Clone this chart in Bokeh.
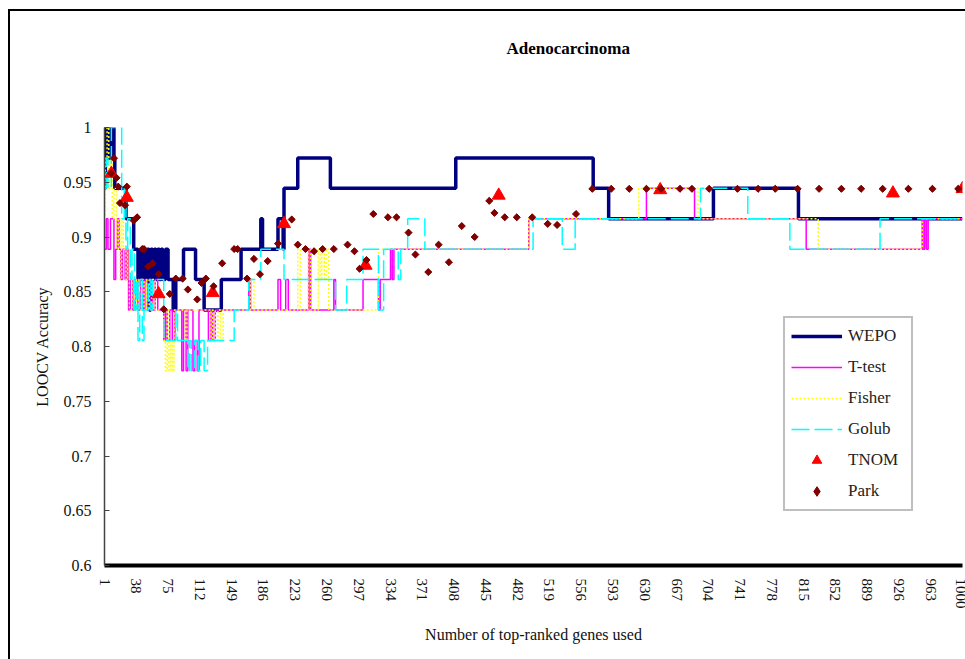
from bokeh.plotting import figure
from bokeh.models import (FixedTicker, CustomJSTickFormatter, Legend, LegendItem,
                          Title, Range1d, InlineStyleSheet)
from bokeh.embed import file_html
from bokeh.resources import INLINE

N_SAMPLES = 36  # accuracies are counts of correctly classified samples out of 36

# ---- data (step breakpoints: number of genes, correct count) ----
wepo_x = [1, 2, 3, 4, 5, 6, 7, 8, 9, 11, 12, 13, 17, 26, 35, 40, 43, 45, 47, 49, 51, 53, 55, 57,
          59, 61, 63, 65, 67, 69, 72, 75, 81, 84, 93, 107, 117, 137, 160, 183, 185, 203, 209,
          210, 226, 264, 410, 570, 588, 710, 809, 1000]
wepo_k = [34, 36, 35, 36, 35, 36, 35, 36, 35, 36, 35, 34, 34, 33, 32, 31, 32, 31, 32, 31, 32, 30, 32, 31,
          32, 31, 32, 31, 32, 31, 32, 31, 30, 31, 32, 31, 30, 31, 32, 33, 32, 33, 32,
          34, 35, 34, 35, 34, 33, 34, 33, 33]

ttest_x = [1, 3, 5, 8, 12, 14, 16, 18, 20, 22, 25, 27, 29, 31, 34, 37, 40, 43, 46, 48,
           51, 54, 57, 60, 63, 70, 72, 74, 77, 80, 83, 91, 93, 96, 98, 104, 106, 109, 111, 122,
           125, 127, 130, 169, 171, 203, 206, 212, 215, 239, 241, 268, 270, 302, 320, 322, 334,
           336, 338, 495, 632, 688, 818, 953, 954, 956, 958, 960, 1000]
ttest_k = [32, 33, 32, 33, 31, 32, 33, 32, 31, 32, 31, 32, 30, 31, 30, 31, 30, 31, 30, 31,
           30, 31, 30, 31, 30, 29, 30, 29, 30, 29, 30, 28, 30, 28, 30, 28, 29, 28, 30, 29,
           30, 29, 30, 31, 30, 31, 30, 31, 30, 32, 30, 31, 30, 31, 30, 31, 32,
           31, 32, 33, 34, 33, 32, 33, 32, 33, 32, 33, 33]

fisher_x = [1, 2, 4, 6, 8, 10, 12, 15, 17, 19, 21, 23, 26, 28, 30, 33, 36, 38, 41, 44,
            47, 50, 53, 56, 60, 70, 72, 74, 76, 78, 80, 82, 95, 97, 125, 127, 130, 133, 136, 139,
            171, 175, 226, 229, 238, 241, 250, 252, 254, 257, 259, 262, 320, 495, 623, 692, 832,
            953, 1000]
fisher_k = [33, 35, 36, 34, 35, 33, 34, 32, 33, 31, 33, 32, 31, 32, 30, 31, 30, 31, 30, 31,
            30, 31, 30, 31, 30, 29, 28, 30, 28, 29, 28, 30, 29, 30, 29, 30, 29, 30, 29, 30,
            31, 30, 32, 30, 32, 30, 32, 31, 32, 31, 32, 30, 32, 33, 34, 33, 32,
            33, 33]

golub_x = [1, 3, 5, 9, 21, 24, 26, 28, 31, 33, 36, 38, 40, 42, 45, 47, 52, 55, 57, 70,
           84, 86, 98, 100, 102, 106, 110, 113, 117, 121, 152, 169, 183, 210, 253, 270, 283, 302,
           320, 326, 343, 346, 354, 374, 500, 534, 549, 695, 750, 799, 904, 1000]
golub_k = [34, 35, 34, 36, 33, 34, 32, 33, 31, 32, 30, 31, 29, 31, 29, 30, 31, 30, 31, 29,
           30, 29, 28, 29, 28, 29, 28, 29, 28, 29, 30, 31, 32, 31, 31, 30, 31, 32,
           30, 32, 31, 32, 33, 32, 33, 32, 33, 34, 33, 32, 33, 33]

tnom_x = [9, 27, 64, 127, 210, 305, 460, 648, 919, 1000]
tnom_y = [0.958, 0.936, 0.848, 0.849, 0.912, 0.874, 0.938, 0.943, 0.940, 0.944]

park_x = [9, 12, 15, 17, 19, 25, 27, 35, 39, 45, 47, 52, 57, 64, 70, 77, 84, 92, 98, 109,
          114, 119, 128, 138, 152, 156, 167, 175, 182, 191, 203, 219, 226, 235, 245, 255, 268,
          284, 292, 298, 306, 314, 331, 341, 355, 363, 378, 390, 402, 417, 432, 449, 455, 467,
          481, 499, 517, 528, 550, 569, 591, 612, 632, 649, 671, 685, 705, 738, 762, 782, 808,
          833, 859, 882, 907, 937, 965, 995]
park_y = [0.958, 0.972, 0.954, 0.946, 0.931, 0.929, 0.946, 0.915, 0.918, 0.889, 0.889, 0.873,
          0.876, 0.866, 0.834, 0.848, 0.862, 0.862, 0.852, 0.843, 0.858, 0.862, 0.855, 0.876,
          0.889, 0.889, 0.862, 0.880, 0.866, 0.878, 0.894, 0.916, 0.893, 0.889, 0.887, 0.889,
          0.889, 0.893, 0.887, 0.871, 0.879, 0.921, 0.918, 0.918, 0.904, 0.884, 0.868, 0.893,
          0.877, 0.910, 0.900, 0.933, 0.922, 0.918, 0.918, 0.918, 0.912, 0.911, 0.921, 0.944,
          0.944, 0.944, 0.944, 0.944, 0.944, 0.944, 0.944, 0.944, 0.944, 0.944, 0.944, 0.944,
          0.944, 0.944, 0.944, 0.944, 0.944, 0.944]

x_tick_labels = [1, 38, 75, 112, 149, 186, 223, 260, 297, 334, 371, 408, 445, 482, 519, 556,
                 593, 630, 667, 704, 741, 778, 815, 852, 889, 926, 963, 1000]
y_ticks = [0.6, 0.65, 0.7, 0.75, 0.8, 0.85, 0.9, 0.95, 1.0]


def acc(ks):
    return [k / N_SAMPLES for k in ks]


FONT = "Liberation Serif"

p = figure(width=965, height=659, output_backend="svg", toolbar_location=None,
           x_range=Range1d(1, 1000), y_range=Range1d(0.6, 1.0),
           min_border_left=104, min_border_right=3, min_border_top=127, min_border_bottom=94)
p.outline_line_color = None
p.xgrid.visible = False
p.ygrid.visible = False
p.background_fill_color = "white"
p.border_fill_color = "white"

# series (drawing order as in the original: WEPO underneath)
r_wepo = p.step(wepo_x, acc(wepo_k), mode="after", line_color="#000080", line_width=3.5)
r_t = p.step(ttest_x, acc(ttest_k), mode="after", line_color="#FF00FF", line_width=1.5)
r_f = p.step(fisher_x, acc(fisher_k), mode="after", line_color="#FFFF00", line_width=1.5,
             line_dash="2 2")
r_g = p.step(golub_x, acc(golub_k), mode="after", line_color="#00FFFF", line_width=1.5,
             line_dash="18 5")
r_tn = p.scatter(tnom_x, tnom_y, marker="triangle", size=13, fill_color="#FF0000",
                 line_color="#FF0000")
# diamond version of the Park points (used for the legend sample, hidden under the marks)
r_pk_leg = p.scatter(park_x, park_y, marker="diamond", size=6, fill_color="#800000",
                     line_color="#800000")
r_pk = p.scatter(park_x, park_y, marker="square", size=5, angle=0.785398,
                 fill_color="#800000", line_color="#800000")

# axes
p.xaxis.ticker = FixedTicker(ticks=x_tick_labels)
p.xaxis.major_label_orientation = "vertical"
p.xaxis.major_label_text_font = FONT
p.xaxis.major_label_text_font_size = "15px"
p.xaxis.major_label_text_color = "#111111"
p.xaxis.major_label_standoff = 13
p.xaxis.axis_line_width = 4
p.xaxis.axis_line_color = "black"
p.xaxis.major_tick_in = 0
p.xaxis.major_tick_out = 0
p.xaxis.minor_tick_line_color = None
p.xaxis.axis_label = "Number of top-ranked genes used"
p.xaxis.axis_label_text_font = FONT
p.xaxis.axis_label_text_font_size = "16px"
p.xaxis.axis_label_text_font_style = "normal"
p.xaxis.axis_label_text_color = "#111111"
p.xaxis.axis_label_standoff = 14

p.yaxis.ticker = FixedTicker(ticks=y_ticks)
p.yaxis.formatter = CustomJSTickFormatter(code="return String(Math.round(tick*100)/100);")
p.yaxis.major_label_text_font = FONT
p.yaxis.major_label_text_font_size = "16px"
p.yaxis.major_label_text_color = "#111111"
p.yaxis.major_label_standoff = 13
p.yaxis.axis_line_width = 1.5
p.yaxis.axis_line_color = "#444444"
p.yaxis.major_tick_in = 5
p.yaxis.major_tick_out = 0
p.yaxis.major_tick_line_color = "#444444"
p.yaxis.minor_tick_line_color = None
p.yaxis.axis_label = "LOOCV Accuracy"
p.yaxis.axis_label_text_font = FONT
p.yaxis.axis_label_text_font_size = "16px"
p.yaxis.axis_label_text_font_style = "normal"
p.yaxis.axis_label_text_color = "#111111"
p.yaxis.axis_label_standoff = 10

# title (trailing empty lines lift it to its place high above the plot area)
p.add_layout(Title(text="Adenocarcinoma\n\n\n", align="left", offset=402, standoff=26,
                   text_font=FONT, text_font_style="bold", text_font_size="17px",
                   text_color="black"), "above")

# legend
legend = Legend(items=[LegendItem(label="WEPO", renderers=[r_wepo]),
                       LegendItem(label="T-test", renderers=[r_t]),
                       LegendItem(label="Fisher", renderers=[r_f]),
                       LegendItem(label="Golub", renderers=[r_g]),
                       LegendItem(label="TNOM", renderers=[r_tn]),
                       LegendItem(label="Park", renderers=[r_pk_leg])],
                location=(679, 54), orientation="vertical")
legend.label_text_font = FONT
legend.label_text_font_size = "17px"
legend.label_text_color = "#222222"
legend.glyph_width = 51
legend.glyph_height = 24
legend.label_height = 24
legend.label_width = 57
legend.spacing = 7
legend.padding = 6
legend.margin = 0
legend.label_standoff = 6
legend.border_line_color = "#808080"
legend.border_line_width = 2
legend.background_fill_color = "white"
legend.background_fill_alpha = 1.0
p.add_layout(legend)

# outer frame of the picture (left and top edges visible in the reference)
p.stylesheets = [InlineStyleSheet(css=(
    ":host::after { content: ''; position: absolute; left: 8px; top: 9px; right: 0; bottom: 0;"
    " border-left: 2px solid black; border-top: 2px solid black; pointer-events: none; }"))]

open("out.html", "w").write(file_html(p, INLINE))
